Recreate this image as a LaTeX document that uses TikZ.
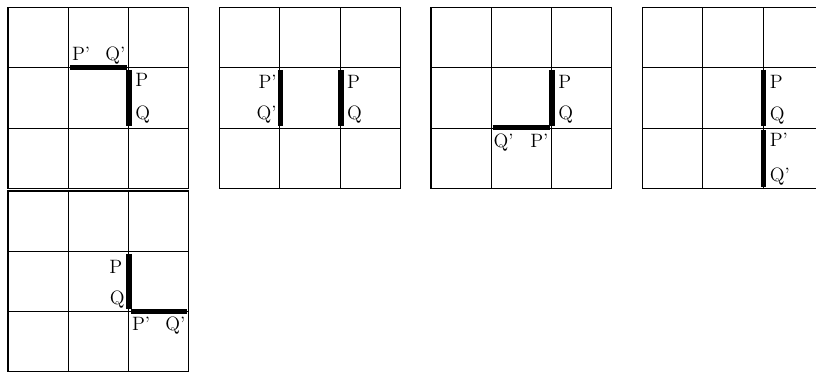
\documentclass[tikz,border=0pt]{standalone}
\begin{document}
\begin{tikzpicture}[x=0.02cm,y=-0.02cm,
  gridline/.style={line width=0.6pt},
  seg/.style={line width=3.25pt,line cap=butt},
  lab/.style={inner sep=0pt,font=\fontsize{11}{13}\selectfont}]
\useasboundingbox (0,0) rectangle (816,374);
% the five 3x3 grids
\foreach \ox/\oy in {8/7.5,219.5/7.5,431/7.5,642.5/7.5,8/191}{
  \begin{scope}[shift={(\ox,\oy)}]
    \draw[gridline] (0,0) rectangle (180.9,180.9);
    \foreach \i in {1,2}{
      \draw[gridline] (\i*60.3,0) -- (\i*60.3,180.9);
      \draw[gridline] (0,\i*60.3) -- (180.9,\i*60.3);
    }
  \end{scope}
}
% grid 1
\begin{scope}[shift={(8,7.5)}]
  \draw[seg] (121,62.5) -- (121,119);
  \draw[seg] (62,60) -- (118.7,60);
  \node[lab,anchor=base west] (aP)  at (127,79.2) {P};
  \node[lab,anchor=base west] (aQ)  at (127,112.5) {Q};
  \node[lab,anchor=base west] (aPp) at (63.7,53.2) {P'};
  \node[lab,anchor=base west] (aQp) at (97,53.2) {Q'};
\end{scope}
% grid 2
\begin{scope}[shift={(219.5,7.5)}]
  \draw[seg] (61,62.5) -- (61,119);
  \draw[seg] (121.3,62.5) -- (121.3,119);
  \node[lab,anchor=base east] (bPp) at (57.5,80.8) {P'};
  \node[lab,anchor=base east] (bQp) at (57.5,112.5) {Q'};
  \node[lab,anchor=base west] (bP)  at (127.2,80.8) {P};
  \node[lab,anchor=base west] (bQ)  at (127.2,112.5) {Q};
\end{scope}
% grid 3
\begin{scope}[shift={(431,7.5)}]
  \draw[seg] (121,62.5) -- (121,119);
  \draw[seg] (61.7,120) -- (119,120);
  \node[lab,anchor=base west] (cP)  at (127,80.8) {P};
  \node[lab,anchor=base west] (cQ)  at (127,112.5) {Q};
  \node[lab,anchor=base west] (cQp) at (62.3,140.5) {Q'};
  \node[lab,anchor=base west] (cPp) at (99,140.5) {P'};
\end{scope}
% grid 4
\begin{scope}[shift={(642.5,7.5)}]
  \draw[seg] (121,62.5) -- (121,119);
  \draw[seg] (121,122.5) -- (121,179.2);
  \node[lab,anchor=base west] (dP)  at (127,80.8) {P};
  \node[lab,anchor=base west] (dQ)  at (127,113.5) {Q};
  \node[lab,anchor=base west] (dPp) at (127,139) {P'};
  \node[lab,anchor=base west] (dQp) at (127,174.2) {Q'};
\end{scope}
% grid 5
\begin{scope}[shift={(8,191)}]
  \draw[seg] (120.8,63.3) -- (120.8,118);
  \draw[seg] (123,120.5) -- (178.7,120.5);
  \node[lab,anchor=base east] (eP)  at (114.5,82.3) {P};
  \node[lab,anchor=base east] (eQ)  at (117,114) {Q};
  \node[lab,anchor=base west] (ePp) at (123.7,140) {P'};
  \node[lab,anchor=base west] (eQp) at (157,140) {Q'};
\end{scope}
\end{tikzpicture}
\end{document}
